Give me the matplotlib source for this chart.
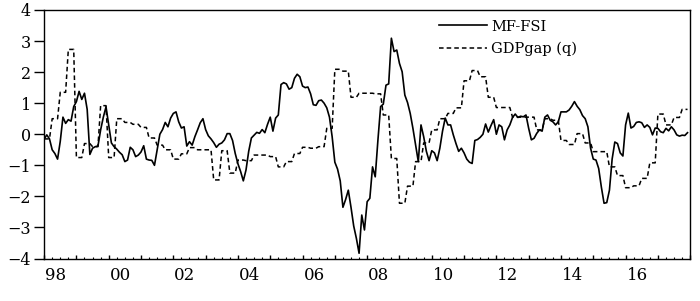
import numpy as np
import matplotlib
matplotlib.use('Agg')
from matplotlib import pyplot as plt
from matplotlib import transforms

plt.rcParams['font.family'] = 'DejaVu Serif'

start_year = 1998
# monthly MF-FSI, 1998M1 .. 2017M12
mf_fsi = [
    -0.16, -0.02, -0.15, -0.5, -0.62, -0.8, -0.23, 0.55, 0.35, 0.47, 0.42, 0.89,      # 1998
    1.05, 1.38, 1.12, 1.32, 0.8, -0.65, -0.45, -0.4, -0.38, 0.14, 0.55, 0.88,         # 1999
    0.3, -0.28, -0.4, -0.48, -0.58, -0.66, -0.88, -0.83, -0.42, -0.5, -0.72, -0.67,   # 2000
    -0.57, -0.37, -0.8, -0.83, -0.84, -1.0, -0.5, 0.0, 0.15, 0.38, 0.24, 0.52,        # 2001
    0.67, 0.72, 0.4, 0.2, 0.24, -0.38, -0.24, -0.35, -0.08, 0.14, 0.37, 0.5,          # 2002
    0.15, -0.05, -0.15, -0.27, -0.42, -0.32, -0.28, -0.18, 0.02, 0.02, -0.2, -0.62,   # 2003
    -0.95, -1.2, -1.5, -1.15, -0.55, -0.12, -0.03, 0.06, 0.03, 0.15, 0.05, 0.32,      # 2004
    0.55, 0.1, 0.52, 0.62, 1.6, 1.66, 1.62, 1.45, 1.5, 1.8, 1.93, 1.85,               # 2005
    1.55, 1.5, 1.52, 1.3, 0.95, 0.93, 1.08, 1.1, 1.0, 0.85, 0.55, -0.08,              # 2006
    -0.9, -1.12, -1.5, -2.35, -2.1, -1.8, -2.35, -2.95, -3.35, -3.83, -2.6, -3.08,    # 2007
    -2.17, -2.06, -1.05, -1.37, -0.19, 0.89, 0.97, 1.58, 1.62, 3.09, 2.66, 2.71,      # 2008
    2.28, 2.01, 1.26, 1.02, 0.67, 0.19, -0.35, -0.88, 0.3, -0.08, -0.55, -0.85,       # 2009
    -0.53, -0.6, -0.85, -0.45, 0.1, 0.52, 0.3, 0.3, -0.02, -0.3, -0.55, -0.45,        # 2010
    -0.6, -0.8, -0.9, -0.94, -0.2, -0.17, -0.1, 0.0, 0.33, 0.07, 0.28, 0.47,          # 2011
    0.0, 0.3, 0.24, -0.18, 0.14, 0.3, 0.54, 0.65, 0.54, 0.58, 0.56, 0.62,             # 2012
    0.19, -0.18, -0.13, 0.03, 0.14, 0.1, 0.55, 0.62, 0.45, 0.4, 0.3, 0.4,             # 2013
    0.72, 0.72, 0.72, 0.78, 0.9, 1.05, 0.9, 0.79, 0.6, 0.5, 0.24, -0.45,              # 2014
    -0.8, -0.83, -1.1, -1.7, -2.22, -2.2, -1.8, -0.8, -0.25, -0.3, -0.6, -0.7,        # 2015
    0.3, 0.68, 0.2, 0.25, 0.38, 0.4, 0.37, 0.22, 0.3, 0.22, -0.02, 0.2,               # 2016
    0.19, 0.08, 0.05, 0.19, 0.11, 0.24, 0.14, -0.02, -0.06, -0.03, -0.04, 0.05,       # 2017
]

# quarterly GDP gap, 1998Q1 .. 2017Q4
gdp_gap_q = [
    -0.15, 0.5, 1.35, 2.73,
    -0.75, -0.3, -0.4, 0.92,
    -0.75, 0.5, 0.38, 0.32,
    0.22, -0.12, -0.35, -0.5,
    -0.8, -0.63, -0.43, -0.5,
    -0.5, -1.47, -0.53, -1.25,
    -0.83, -0.85, -0.67, -0.67,
    -0.72, -1.05, -0.88, -0.62,
    -0.42, -0.45, -0.4, 0.19,
    2.09, 2.03, 1.19, 1.32,
    1.32, 1.3, 0.62, -0.78,
    -2.22, -1.67, -0.88, -0.28,
    0.14, 0.5, 0.67, 0.85,
    1.72, 2.05, 1.85, 1.19,
    0.86, 0.86, 0.55, 0.55,
    0.55, 0.14, 0.5, 0.45,
    -0.2, -0.33, 0.02, -0.28,
    -0.56, -0.56, -1.05, -1.33,
    -1.72, -1.66, -1.42, -0.92,
    0.65, 0.3, 0.54, 0.8,
]

year_labels = ['98', '00', '02', '04', '06', '08', '10', '12', '14', '16']
label_years = list(range(1998, 2017, 2))

t = start_year + np.arange(len(mf_fsi)) / 12.0
gdp_gap = np.repeat(gdp_gap_q, 3)  # quarterly value held for each month

fig = plt.figure(figsize=(7, 3.01), dpi=100)
ax = fig.add_axes([0.063, 0.141, 0.923, 0.826])

ax.plot(t, mf_fsi, color='black', lw=1.2, label='MF-FSI')
ax.plot(t, gdp_gap, color='black', lw=1.1, dashes=(3, 2), label='GDPgap (q)')

ax.set_xlim(1998, 2018)
ax.set_ylim(-4, 4)

# y axis
ax.set_yticks(range(-4, 5))
ax.tick_params(axis='y', direction='out', length=7, width=1.0, pad=2.5, labelsize=11.5)

# x axis: yearly major ticks, quarterly minor, labels placed inside the year
ax.set_xticks(np.arange(1998, 2019))
ax.set_xticks(np.arange(1998, 2018.01, 0.25), minor=True)
ax.set_xticklabels([])
ax.tick_params(axis='x', which='major', direction='in', length=3, width=1.0)
ax.tick_params(axis='x', which='minor', direction='in', length=1.5, width=0.8)
trans = transforms.blended_transform_factory(ax.transData, ax.transAxes)
for yr, lab in zip(label_years, year_labels):
    ax.text(yr + 0.36, -0.035, lab, transform=trans, ha='center', va='top', fontsize=12)

for s in ax.spines.values():
    s.set_linewidth(1.0)

ax.legend(loc='upper left', bbox_to_anchor=(0.627, 0.935), bbox_transform=fig.transFigure,
          frameon=False, borderpad=0, borderaxespad=0, handlelength=3.3,
          handletextpad=0.3, labelspacing=0.55, fontsize=10.5)

fig.savefig('out.png', dpi=100)
